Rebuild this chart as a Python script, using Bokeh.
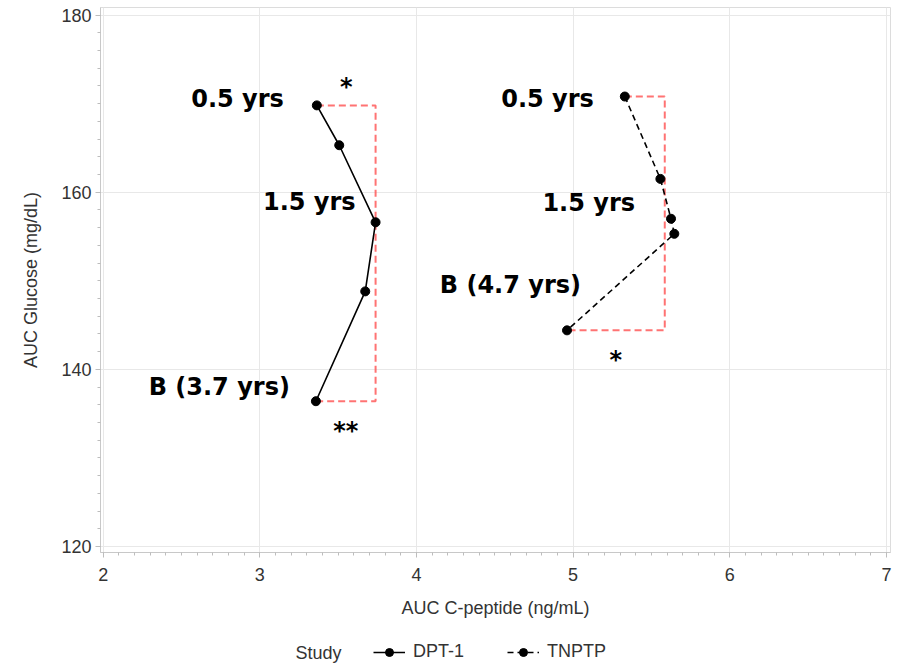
from bokeh.plotting import figure
from bokeh.layouts import column
from bokeh.models import (ColumnDataSource, FixedTicker, Legend, LegendItem,
                          Label, Range1d)
from bokeh.embed import file_html
from bokeh.resources import INLINE
from bokeh.core.properties import value

# AUC C-peptide (ng/mL) vs AUC glucose (mg/dL), from 0.5 yrs before diagnosis back to baseline
dpt_cpep = [3.364, 3.507, 3.739, 3.673, 3.358]
dpt_gluc = [169.8, 165.3, 156.6, 148.8, 136.4]
tnptp_cpep = [5.330, 5.557, 5.625, 5.646, 4.961]
tnptp_gluc = [170.8, 161.5, 157.0, 155.3, 144.4]

# timepoint labels for each study: (point index, text)
dpt_labels = [(0, "0.5 yrs"), (2, "1.5 yrs"), (4, "B (3.7 yrs)")]
tnptp_labels = [(0, "0.5 yrs"), (2, "1.5 yrs"), (4, "B (4.7 yrs)")]

# significance markers
dpt_sig = ["*", "**"]
tnptp_sig = ["*"]

# C-peptide position of the comparison bracket for each study
dpt_bracket_x = 3.739
tnptp_bracket_x = 5.585

x_ticks = [2, 3, 4, 5, 6, 7]
y_ticks = [120, 140, 160, 180]

study_names = ["DPT-1", "TNPTP"]

AXIS_FONT = "Liberation Sans"
ANN_FONT = "DejaVu Sans"
RED = "#ff5a5a"
TEXT_GREY = "#333333"

p = figure(frame_width=790, frame_height=545, output_backend="svg",
           toolbar_location=None,
           x_range=Range1d(1.983, 7.026), y_range=Range1d(119.32, 180.85),
           min_border_left=100, min_border_right=20, min_border_top=7,
           min_border_bottom=84)

p.outline_line_color = "#dcdcdc"
p.background_fill_color = "white"
p.border_fill_color = "white"

# axes
p.xaxis.ticker = FixedTicker(ticks=x_ticks,
                             minor_ticks=[2 + i * 0.1 for i in range(51)])
p.yaxis.ticker = FixedTicker(ticks=y_ticks,
                             minor_ticks=list(range(120, 181, 2)))
p.xaxis.axis_label = "AUC C-peptide (ng/mL)"
p.yaxis.axis_label = "AUC Glucose (mg/dL)"
for ax in (p.xaxis[0], p.yaxis[0]):
    ax.axis_line_color = "#c8c8c8"
    ax.major_tick_line_color = "#bdbdbd"
    ax.minor_tick_line_color = "#bdbdbd"
    ax.major_tick_out = 5
    ax.major_tick_in = 0
    ax.minor_tick_out = 3
    ax.minor_tick_in = 0
    ax.major_label_text_font = AXIS_FONT
    ax.major_label_text_font_size = "18px"
    ax.major_label_text_color = TEXT_GREY
    ax.axis_label_text_font = AXIS_FONT
    ax.axis_label_text_font_size = "18px"
    ax.axis_label_text_font_style = "normal"
    ax.axis_label_text_color = TEXT_GREY
p.xaxis.major_label_standoff = 10
p.xaxis.axis_label_standoff = 14
p.yaxis.major_label_standoff = 4
p.yaxis.axis_label_standoff = 17

p.grid.grid_line_color = "#e8e8e8"
p.grid.grid_line_width = 1

# comparison brackets (drawn beneath the study lines)
def bracket(xs, ys, bx):
    return ([xs[0], bx, bx, xs[-1]], [ys[0], ys[0], ys[-1], ys[-1]])

bx1, by1 = bracket(dpt_cpep, dpt_gluc, dpt_bracket_x)
bx2, by2 = bracket(tnptp_cpep, tnptp_gluc, tnptp_bracket_x)
p.line(bx1, by1, line_color=RED, line_width=2, line_dash="7 4", line_alpha=0.85)
p.line(bx2, by2, line_color=RED, line_width=2, line_dash="7 4", line_alpha=0.85)

# study trajectories
LINE_STYLES = [dict(line_color="black", line_width=1.6),
               dict(line_color="black", line_width=1.6, line_dash="6 4")]
MARKER_STYLE = dict(size=9, fill_color="black", line_color="black")
study_data = [(dpt_cpep, dpt_gluc), (tnptp_cpep, tnptp_gluc)]

for (xs, ys), style in zip(study_data, LINE_STYLES):
    p.line(xs, ys, **style)
    p.scatter(xs, ys, **MARKER_STYLE)

# timepoint labels, offset in pixels from their points
label_offsets = {
    ("dpt", 0): (-33, -6), ("dpt", 2): (-20, -20), ("dpt", 4): (-26, -14),
    ("tn", 0): (-31, 2), ("tn", 2): (-36, -16), ("tn", 4): (14, -45),
}
lx, ly, lt, lox, loy = [], [], [], [], []
for key, xs, ys, labs in (("dpt", dpt_cpep, dpt_gluc, dpt_labels),
                          ("tn", tnptp_cpep, tnptp_gluc, tnptp_labels)):
    for i, t in labs:
        ox, oy = label_offsets[(key, i)]
        lx.append(xs[i]); ly.append(ys[i]); lt.append(t)
        lox.append(ox); loy.append(oy)
lab_src = ColumnDataSource(dict(x=lx, y=ly, text=lt, xo=lox, yo=loy))
p.text(x="x", y="y", text="text", x_offset="xo", y_offset="yo", source=lab_src,
       text_font=value(ANN_FONT), text_font_style="bold",
       text_font_size="24px", text_color="black",
       text_align="right", text_baseline="middle")

# significance stars, placed around the bracket ends
sx = [(dpt_cpep[0] + dpt_bracket_x) / 2, (dpt_cpep[-1] + dpt_bracket_x) / 2,
      (tnptp_cpep[-1] + tnptp_bracket_x) / 2]
sy = [dpt_gluc[0], dpt_gluc[-1], tnptp_gluc[-1]]
st = [dpt_sig[0], dpt_sig[1], tnptp_sig[0]]
syo = [-18, 30, 30]
star_src = ColumnDataSource(dict(x=sx, y=sy, text=st, yo=syo))
p.text(x="x", y="y", text="text", y_offset="yo", source=star_src,
       text_font=value(ANN_FONT), text_font_style="bold",
       text_font_size="24px", text_color="black",
       text_align="center", text_baseline="middle")

# legend strip beneath the chart; its frame lines up with the chart frame,
# and its x range is in page pixels
lf = figure(frame_width=790, frame_height=27, output_backend="svg",
            toolbar_location=None,
            x_range=Range1d(100, 890), y_range=Range1d(0, 27),
            x_axis_type=None, y_axis_type=None,
            min_border_left=100, min_border_right=20,
            min_border_top=0, min_border_bottom=0)
lf.outline_line_color = None
lf.background_fill_color = "white"
lf.border_fill_color = "white"

# key renderers carry the study data, which lies outside this strip's ranges
items = []
for name, (xs, ys), style in zip(study_names, study_data, LINE_STYLES):
    key_line = lf.line(xs, ys, **style)
    key_pts = lf.scatter(xs, ys, **MARKER_STYLE)
    items.append(LegendItem(label=name, renderers=[key_line, key_pts]))

legend = Legend(items=items, orientation="horizontal", location=(273, 1))
legend.label_text_font = AXIS_FONT
legend.label_text_font_size = "18px"
legend.label_text_color = TEXT_GREY
legend.border_line_alpha = 0
legend.background_fill_alpha = 0
legend.glyph_width = 32
legend.glyph_height = 20
legend.label_height = 20
legend.spacing = 43
legend.padding = 0
legend.margin = 0
legend.label_standoff = 8
lf.add_layout(legend)

lf.add_layout(Label(x=295, y=11, text="Study", text_align="left",
                    text_baseline="middle", text_font=AXIS_FONT,
                    text_font_size="18px", text_color=TEXT_GREY))

open("out.html", "w").write(file_html(column(p, lf), INLINE))
